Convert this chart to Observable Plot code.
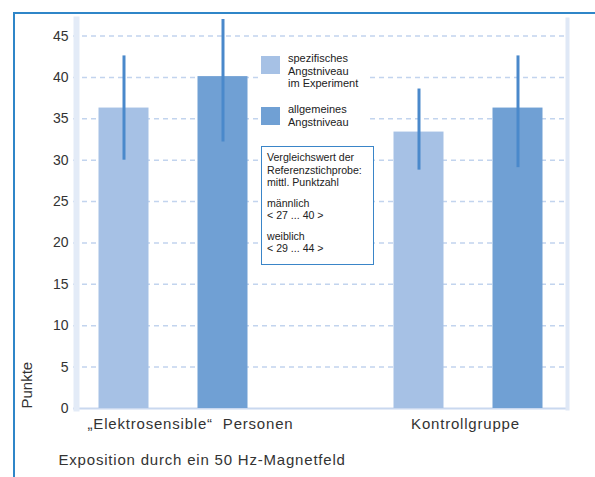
<!DOCTYPE html>
<html>
<head>
<meta charset="utf-8">
<script src="https://cdn.jsdelivr.net/npm/d3@7"></script>
<script src="https://cdn.jsdelivr.net/npm/@observablehq/plot@0.6"></script>
<style>
  html, body { margin: 0; padding: 0; background: #fff; }
  #wrap { position: relative; width: 595px; height: 477px; overflow: hidden; font-family: "Liberation Sans", Arial, sans-serif; }
  #wrap svg { position: absolute; left: 0; top: 0; }
  .frameline { position: absolute; left: 13px; top: 12px; width: 590px; height: 470px; border-left: 2px solid #2f86c8; border-top: 2px solid #2f86c8; pointer-events: none; }
  .legend { position: absolute; left: 258px; width: 108px; background: #fff; font-size: 11px; line-height: 12.5px; color: #222; }
  .legend .sw { position: absolute; left: 3px; top: 4px; width: 19px; height: 18px; }
  .legend .tx { position: absolute; left: 30px; top: 0; white-space: nowrap; }
  .box { position: absolute; left: 261px; top: 146px; width: 106px; height: 113px; border: 1.5px solid #3a85c8; background: #fff; padding: 4px 0 0 5px; font-size: 10.6px; line-height: 12.5px; color: #222; }
  .box p { margin: 0 0 8px 0; white-space: nowrap; }
  g[aria-label="x-axis tick label"] text, g.caption text { letter-spacing: 0.8px; }
</style>
</head>
<body>
<div id="wrap"></div>
<script>
// ---- data ----
const groups = ["\u201EElektrosensible\u201C  Personen", "Kontrollgruppe"];
const seriesNames = ["spezifisches Angstniveau im Experiment", "allgemeines Angstniveau"];
const spezMean = [36.3, 33.4];
const spezLow  = [30.0, 28.8];
const spezHigh = [42.6, 38.6];
const allgMean = [40.1, 36.3];
const allgLow  = [32.2, 29.1];
const allgHigh = [48.0, 42.6];
const yTicks = [0, 5, 10, 15, 20, 25, 30, 35, 40, 45];
const yLabel = "Punkte";
const caption = "Exposition durch ein 50 Hz-Magnetfeld";
const boxLines = [["Vergleichswert der", "Referenzstichprobe:", "mittl. Punktzahl"], ["männlich", "< 27 ... 40 >"], ["weiblich", "< 29 ... 44 >"]];

const colLight = "#a6c1e5";
const colDark = "#70a0d4";
const colErr = "#4a89cb";

const spez = groups.map((g, i) => ({group: g, mean: spezMean[i], lo: spezLow[i], hi: spezHigh[i]}));
const allg = groups.map((g, i) => ({group: g, mean: allgMean[i], lo: allgLow[i], hi: allgHigh[i]}));

const off = 49.5;

const chart = Plot.plot({
  width: 595,
  height: 477,
  marginLeft: 73,
  marginRight: 27,
  marginTop: 19,
  marginBottom: 69,
  style: {fontFamily: "'Liberation Sans', Arial, sans-serif", fontSize: "14px", color: "#333", background: "transparent", overflow: "visible"},
  x: {type: "band", domain: groups, paddingInner: 0.8308, paddingOuter: 0.253},
  y: {domain: [0, 47]},
  marks: [
    Plot.ruleY(yTicks.filter(t => t > 0), {stroke: "#c2d4ee", strokeWidth: 1.5, strokeDasharray: "5,4"}),
    Plot.ruleY([0], {stroke: "#c9d8ef", strokeWidth: 2}),
    Plot.frame({anchor: "left", stroke: "#e3ebf7", strokeWidth: 6, dx: 3}),
    Plot.frame({anchor: "right", stroke: "#dfe8f6", strokeWidth: 4, dx: -1}),
    Plot.barY(spez, {x: "group", y: "mean", fill: colLight, dx: -off}),
    Plot.barY(allg, {x: "group", y: "mean", fill: colDark, dx: off}),
    Plot.ruleX(spez, {x: "group", y1: "lo", y2: "hi", stroke: colErr, strokeWidth: 3, dx: -off, clip: true}),
    Plot.ruleX(allg, {x: "group", y1: "lo", y2: "hi", stroke: colErr, strokeWidth: 3, dx: off, clip: true}),
    Plot.axisY({ticks: yTicks, tickSize: 0, tickPadding: 5, label: null, fontSize: 14, fill: "#333"}),
    Plot.axisX({ticks: [groups[0]], tickSize: 0, tickPadding: 10, label: null, fontSize: 15, fill: "#333", dx: 17}),
    Plot.axisX({ticks: [groups[1]], tickSize: 0, tickPadding: 10, label: null, fontSize: 15, fill: "#333", dx: -3}),
    Plot.text([yLabel], {frameAnchor: "bottom-left", rotate: -90, textAnchor: "start", dx: -42, fontSize: 15, fill: "#333"}),
    Plot.text([caption], {frameAnchor: "bottom-left", textAnchor: "start", dx: -15, dy: 56, fontSize: 15, fill: "#333", className: "caption"})
  ]
});

const wrap = document.getElementById("wrap");
wrap.appendChild(chart);

// legend
const leg = [{name: seriesNames[0], color: colLight, top: 52, lines: ["spezifisches", "Angstniveau", "im Experiment"]},
             {name: seriesNames[1], color: colDark, top: 103, lines: ["allgemeines", "Angstniveau"]}];
leg.forEach(l => {
  const d = document.createElement("div");
  d.className = "legend";
  d.style.top = l.top + "px";
  d.style.height = (l.lines.length * 12.5 + 4) + "px";
  d.innerHTML = `<div class="sw" style="background:${l.color}"></div><div class="tx">${l.lines.join("<br>")}</div>`;
  wrap.appendChild(d);
});

// comparison box
const box = document.createElement("div");
box.className = "box";
box.innerHTML = boxLines.map(p => `<p>${p.join("<br>")}</p>`).join("");
wrap.appendChild(box);

const fr = document.createElement("div");
fr.className = "frameline";
wrap.appendChild(fr);
</script>
</body>
</html>
